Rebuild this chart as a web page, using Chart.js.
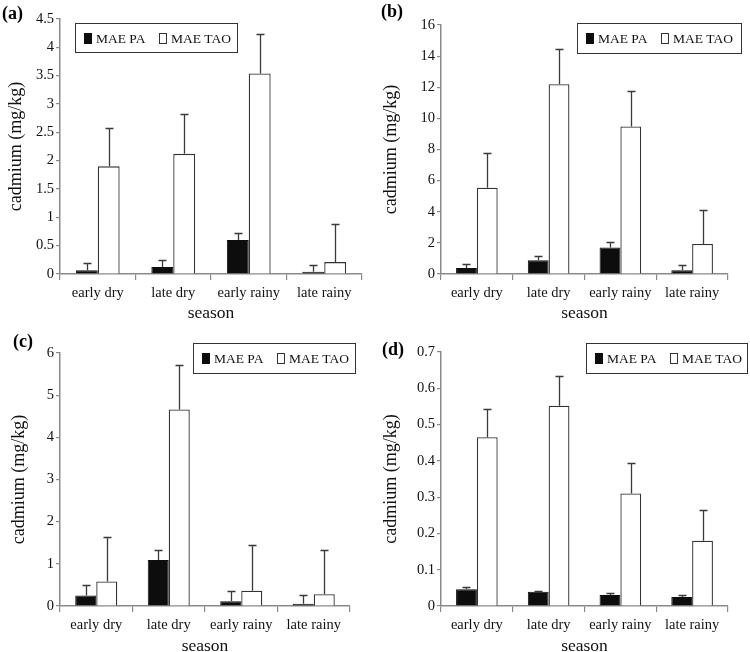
<!DOCTYPE html>
<html lang="en">
<head>
<meta charset="UTF-8">
<title>Cadmium by season</title>
<script src="https://cdn.jsdelivr.net/npm/chart.js"></script>
<style>
  html, body { margin: 0; padding: 0; background: #fff; overflow: hidden; }
  body { width: 750px; height: 652px; position: relative; }
  canvas { position: absolute; }
</style>
</head>
<body>
<canvas id="chartA" width="375" height="326" style="left:0;top:0"></canvas>
<canvas id="chartB" width="375" height="326" style="left:375px;top:0"></canvas>
<canvas id="chartC" width="375" height="328" style="left:0;top:330px"></canvas>
<canvas id="chartD" width="375" height="328" style="left:375px;top:330px"></canvas>

<script>
// ---- data ----
const seasons = ['early dry', 'late dry', 'early rainy', 'late rainy'];
const seriesNames = ['MAE PA', 'MAE TAO'];

// (a)
const paA = [0.065, 0.125, 0.60, 0.04];
const paErrA = [0.125, 0.125, 0.125, 0.125];
const taoA = [1.90, 2.12, 3.54, 0.21];
const taoErrA = [0.67, 0.70, 0.69, 0.68];

// (b)
const paB = [0.38, 0.89, 1.70, 0.24];
const paErrB = [0.28, 0.28, 0.36, 0.36];
const taoB = [5.55, 12.2, 9.48, 1.93];
const taoErrB = [2.25, 2.28, 2.28, 2.2];

// (c)
const paC = [0.25, 1.09, 0.11, 0.055];
const paErrC = [0.25, 0.24, 0.25, 0.215];
const taoC = [0.58, 4.66, 0.36, 0.28];
const taoErrC = [1.06, 1.05, 1.08, 1.05];

// (d)
const paD = [0.046, 0.039, 0.030, 0.025];
const paErrD = [0.005, 0.003, 0.006, 0.005];
const taoD = [0.465, 0.552, 0.31, 0.18];
const taoErrD = [0.079, 0.083, 0.084, 0.084];

const panelTags = ['(a)', '(b)', '(c)', '(d)'];
const yMax = [4.5, 16, 6, 0.7];
const yStep = [0.5, 2, 1, 0.1];

// ---- styling ----
const serif = '"Liberation Serif", "Times New Roman", serif';
const axisGray = '#8a8a8a';
const inkColor = '#111111';
Chart.defaults.font.family = serif;
Chart.defaults.color = inkColor;

// upward-only error bars with a cap
const errorBars = {
  id: 'errorBars',
  afterDatasetsDraw(chart, args, opts) {
    const ctx = chart.ctx;
    const y = chart.scales.y;
    ctx.save();
    ctx.strokeStyle = opts.color;
    ctx.lineWidth = opts.width;
    chart.data.datasets.forEach((ds, i) => {
      chart.getDatasetMeta(i).data.forEach((bar, j) => {
        const top = Math.round(y.getPixelForValue(ds.data[j] + ds.errors[j])) + 0.5;
        const x = Math.round(bar.x) + 0.5;
        ctx.beginPath();
        ctx.moveTo(x, bar.y);
        ctx.lineTo(x, top);
        ctx.moveTo(x - opts.cap, top);
        ctx.lineTo(x + opts.cap, top);
        ctx.stroke();
      });
    });
    ctx.restore();
  }
};

// boxed legend + panel letter
const boxLegend = {
  id: 'boxLegend',
  afterDraw(chart, args, opts) {
    const ctx = chart.ctx;
    const {x, y, w, h} = opts;
    ctx.save();
    ctx.strokeStyle = '#333';
    ctx.lineWidth = 1;
    ctx.strokeRect(x + 0.5, y + 0.5, w, h);
    ctx.font = '13.5px ' + serif;
    ctx.textBaseline = 'middle';
    chart.data.datasets.forEach((ds, i) => {
      const mx = x + 9 + i * 75;
      const my = Math.round(y + h / 2 - 5);
      ctx.fillStyle = ds.backgroundColor;
      ctx.fillRect(mx, my, 8, 11);
      ctx.strokeStyle = ds.borderColor;
      ctx.strokeRect(mx + 0.5, my + 0.5, 7, 10);
      ctx.fillStyle = inkColor;
      ctx.fillText(ds.label, mx + 12, y + h / 2 + 1.5);
    });
    ctx.font = 'bold 18px ' + serif;
    ctx.textBaseline = 'top';
    ctx.fillStyle = '#000';
    ctx.fillText(opts.tag, opts.tx, opts.ty);
    ctx.restore();
  }
};

function makePanel(id, k, pa, paErr, tao, taoErr, box) {
  new Chart(document.getElementById(id), {
    type: 'bar',
    data: {
      labels: seasons,
      datasets: [
        { label: seriesNames[0], data: pa, errors: paErr, backgroundColor: '#0d0d0d', borderColor: '#0d0d0d', borderWidth: 1 },
        { label: seriesNames[1], data: tao, errors: taoErr, backgroundColor: '#ffffff', borderColor: '#333333', borderWidth: 1.3 }
      ]
    },
    options: {
      responsive: false,
      animation: false,
      datasets: { bar: { categoryPercentage: 0.58, barPercentage: 1 } },
      layout: { padding: { top: box.top, right: box.right, left: 0, bottom: 0 } },
      plugins: {
        legend: { display: false },
        tooltip: { enabled: false },
        errorBars: { color: '#3a3a3a', width: 1.3, cap: 4 },
        boxLegend: box.legend
      },
      scales: {
        x: {
          grid: { drawOnChartArea: false, drawTicks: true, tickLength: 6, color: axisGray, lineWidth: 1.2, offset: true },
          border: { display: true, color: axisGray, width: 1.5 },
          ticks: { font: { size: 14.5 }, color: inkColor, padding: 4, maxRotation: 0 },
          title: { display: true, text: 'season', font: { size: 17.5 }, color: inkColor, padding: { top: 0, bottom: box.xTitlePad } },
          afterFit: s => { s.height = box.xh; }
        },
        y: {
          min: 0,
          max: yMax[k],
          ticks: {
            stepSize: yStep[k], font: { size: 14.5 }, color: inkColor, padding: 2,
            callback: v => String(Math.round(v * 1000) / 1000)
          },
          grid: { drawOnChartArea: false, drawTicks: true, tickLength: 4, color: axisGray, lineWidth: 1.2 },
          border: { display: true, color: axisGray, width: 1.5 },
          title: { display: true, text: 'cadmium (mg/kg)', font: { size: 18 }, color: inkColor, padding: { top: box.yTitlePad, bottom: 0 } },
          afterFit: s => { s.width = box.yw; }
        }
      }
    },
    plugins: [errorBars, boxLegend]
  });
}

makePanel('chartA', 0, paA, paErrA, taoA, taoErrA, {
  top: 19, right: 13, yw: 60, xh: 52, xTitlePad: 2, yTitlePad: 5.5,
  legend: { x: 75, y: 23, w: 162, h: 29, tag: panelTags[0], tx: 2, ty: 5 }
});
makePanel('chartB', 1, paB, paErrB, taoB, taoErrB, {
  top: 25, right: 22, yw: 66, xh: 52, xTitlePad: 2, yTitlePad: 5.5,
  legend: { x: 202, y: 23, w: 164, h: 30, tag: panelTags[1], tx: 6, ty: 3 }
});
makePanel('chartC', 2, paC, paErrC, taoC, taoErrC, {
  top: 23, right: 25, yw: 60, xh: 52, xTitlePad: 1, yTitlePad: 8,
  legend: { x: 193, y: 13, w: 162, h: 30, tag: panelTags[2], tx: 13, ty: 3 }
});
makePanel('chartD', 3, paD, paErrD, taoD, taoErrD, {
  top: 22, right: 22, yw: 66, xh: 52, xTitlePad: 1, yTitlePad: 5.5,
  legend: { x: 211, y: 13, w: 161, h: 30, tag: panelTags[3], tx: 7, ty: 11 }
});
</script>
</body>
</html>
